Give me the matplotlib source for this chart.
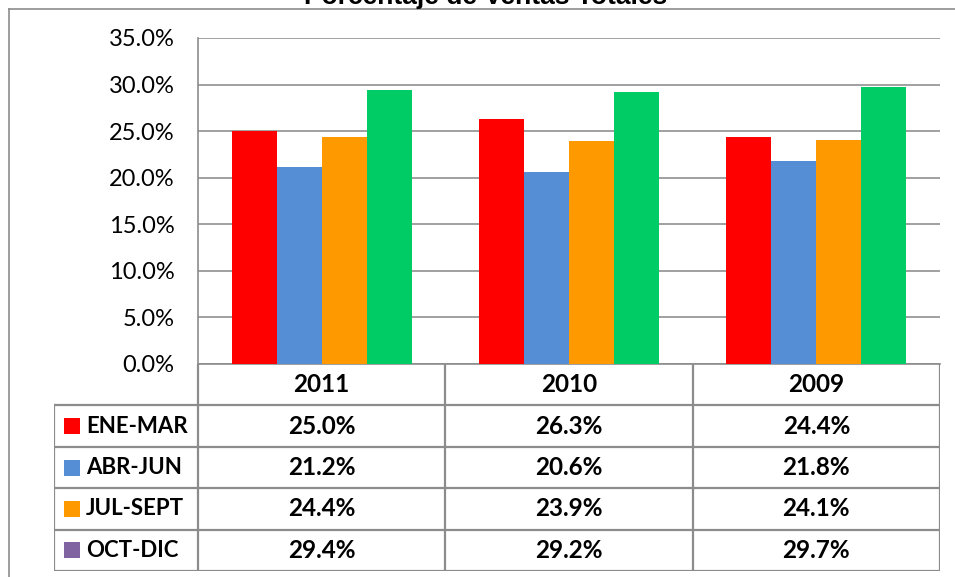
import matplotlib
matplotlib.use("Agg")
import matplotlib.pyplot as plt
from matplotlib.lines import Line2D
from matplotlib.patches import Rectangle
import numpy as np

years = ['2011', '2010', '2009']
quarters = ['ENE-MAR', 'ABR-JUN', 'JUL-SEPT', 'OCT-DIC']
ene_mar = [25.0, 26.3, 24.4]
abr_jun = [21.2, 20.6, 21.8]
jul_sept = [24.4, 23.9, 24.1]
oct_dic = [29.4, 29.2, 29.7]
values = [ene_mar, abr_jun, jul_sept, oct_dic]
bar_colors = ['#FF0000', '#558ED5', '#FF9900', '#00CC66']
key_colors = ['#FF0000', '#558ED5', '#FF9900', '#8064A2']
yticks = [0, 5, 10, 15, 20, 25, 30, 35]

plt.rcParams['font.family'] = ['Lato', 'DejaVu Sans']

W, H = 955, 577
fig = plt.figure(figsize=(W / 100, H / 100), dpi=100)

def box(x0, y0, x1, y1):
    # pixel box (top-left origin) -> figure rect
    return [x0 / W, 1 - y1 / H, (x1 - x0) / W, (y1 - y0) / H]

grey = '#8C8C8C'

# outer chart border (only left and top visible)
fig.add_artist(Line2D([9 / W, 9 / W], [0, 1 - 9 / H], transform=fig.transFigure, color=grey, lw=1.2))
fig.add_artist(Line2D([9 / W, 1], [1 - 9 / H, 1 - 9 / H], transform=fig.transFigure, color=grey, lw=1.2))

# title sits mostly above the image edge, as in the original
fig.text(486 / W, 1 - 4 / H, 'Porcentaje de Ventas Totales', ha='center', va='baseline',
         fontsize=19, fontweight='bold', family=['Liberation Sans', 'DejaVu Sans'])

# main bar chart
ax = fig.add_axes(box(198, 38, 940, 364))
x = np.arange(len(years))
w = 0.182
for i, (vals, c) in enumerate(zip(values, bar_colors)):
    ax.bar(x + (i - 1.5) * w, vals, w, color=c, zorder=3)
ax.set_xlim(-0.5, 2.5)
ax.set_ylim(0, 35)
ax.set_yticks(yticks)
ax.set_yticklabels([f'{v:.1f}%' for v in yticks], fontsize=17)
ax.set_xticks([])
ax.tick_params(axis='y', length=0, pad=17)
ax.grid(axis='y', color='#868686', lw=1.1, zorder=0)
for s in ['top', 'right']:
    ax.spines[s].set_visible(False)
for s in ['left', 'bottom']:
    ax.spines[s].set_color(grey)
    ax.spines[s].set_linewidth(1.2)

# data table below
unit = (940 - 198) / 3
left = -0.5 - (198 - 54) / unit
tax = fig.add_axes(box(54, 364, 940, 571))
tax.set_xlim(left, 2.5)
tax.set_ylim(5, 0)
tax.axis('off')
lkw = dict(color=grey, lw=1.6, solid_capstyle='projecting')
for r in range(1, 6):
    tax.plot([left, 2.5], [r, r], **lkw)
tax.plot([left, left], [1, 5], **lkw)
for xv in [-0.5, 0.5, 1.5, 2.5]:
    tax.plot([xv, xv], [0, 5], **lkw)

fs = 17.5
for j, yr in enumerate(years):
    tax.text(j, 0.5, yr, ha='center', va='center', fontsize=fs, fontweight='bold')
rh = 207 / 5
for i, (q, vals) in enumerate(zip(quarters, values)):
    yc = i + 1.5
    tax.add_patch(Rectangle((left + 10 / unit, yc - 8 / rh), 16 / unit, 16 / rh,
                            color=key_colors[i], lw=0))
    tax.text(left + 32 / unit, yc, q, ha='left', va='center', fontsize=16, fontweight='bold')
    for j, v in enumerate(vals):
        tax.text(j, yc, f'{v:.1f}%', ha='center', va='center', fontsize=fs, fontweight='bold')

fig.savefig('out.png', dpi=100)
